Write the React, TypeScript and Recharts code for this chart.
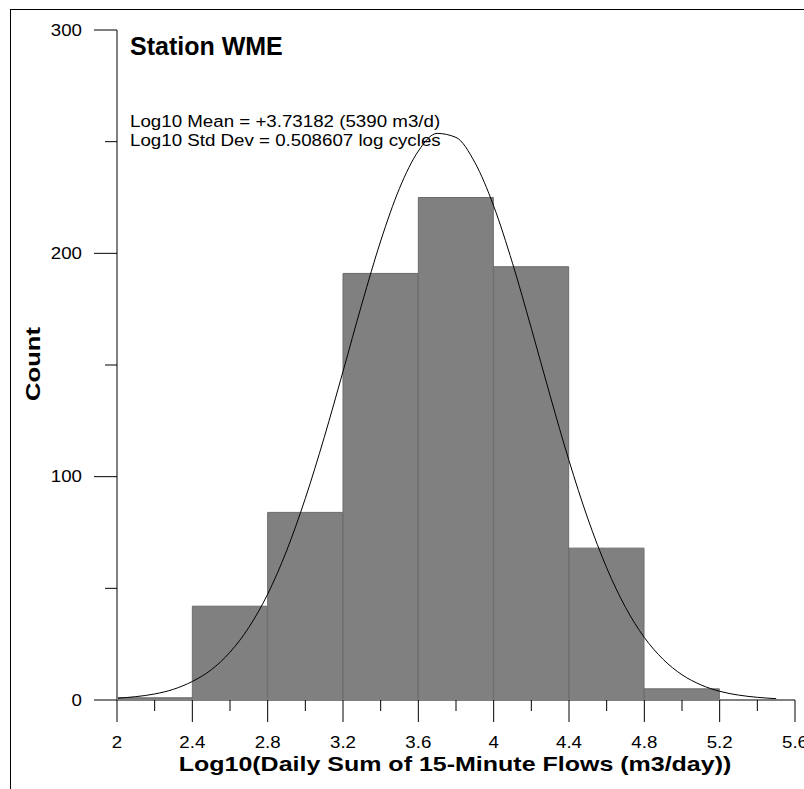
import React from "react";
import { ComposedChart, Bar, Line, XAxis, YAxis } from "recharts";

// histogram bins (centre of each 0.4 wide bin) and counts
const binMid = [2.2, 2.6, 3.0, 3.4, 3.8, 4.2, 4.6, 5.0];
const binCount = [1, 42, 84, 191, 225, 194, 68, 5];

// fitted normal curve
const curveX = [
  2.0, 2.1, 2.2, 2.3, 2.4, 2.5, 2.6, 2.7, 2.8, 2.9, 3.0, 3.1, 3.2, 3.3, 3.4, 3.5, 3.6, 3.7,
  3.8, 3.9, 4.0, 4.1, 4.2, 4.3, 4.4, 4.5, 4.6, 4.7, 4.8, 4.9, 5.0, 5.1, 5.2, 5.3, 5.4, 5.5,
];
const curveY = [
  0.8, 1.5, 2.7, 4.8, 8.3, 13.5, 21.4, 32.5, 47.4, 66.7, 90.3, 117.5, 147.1, 177.3, 205.5, 229.1, 245.8, 253.7,
  251.9, 240.7, 221.2, 195.6, 166.4, 136.2, 107.2, 81.2, 59.2, 41.5, 28.0, 18.2, 11.3, 6.8, 3.9, 2.2, 1.2, 0.6,
];

const xTicks = [2, 2.2, 2.4, 2.6, 2.8, 3, 3.2, 3.4, 3.6, 3.8, 4, 4.2, 4.4, 4.6, 4.8, 5, 5.2, 5.4, 5.6];
const xMajor = [2, 2.4, 2.8, 3.2, 3.6, 4, 4.4, 4.8, 5.2, 5.6];
const yTicks = [0, 50, 100, 150, 200, 250, 300];
const yMajor = [0, 100, 200, 300];

const bins = binMid.map((x, i) => ({ x, count: binCount[i] }));
const curve = curveX.map((x, i) => ({ x, y: curveY[i] }));

const FONT = "'Liberation Sans', Arial, Helvetica, sans-serif";

function XTick(props: any) {
  const { x, y, payload } = props;
  const major = xMajor.includes(payload.value);
  return (
    <g>
      <line x1={x} y1={y} x2={x} y2={y + (major ? 22 : 11)} stroke="#000" strokeWidth={1} />
      {major && (
        <text
          transform={`translate(${x},${y + 42}) scale(1.17,1)`}
          textAnchor="middle"
          dominantBaseline="central"
          fontFamily={FONT}
          fontSize={16}
          fill="#000"
        >
          {String(payload.value)}
        </text>
      )}
    </g>
  );
}

function YTick(props: any) {
  const { x, y, payload } = props;
  const major = yMajor.includes(payload.value);
  return (
    <g>
      <line x1={x - (major ? 23 : 12)} y1={y} x2={x} y2={y} stroke="#000" strokeWidth={1} />
      {major && (
        <text
          transform={`translate(${x - 35},${y}) scale(1.17,1)`}
          textAnchor="end"
          dominantBaseline="central"
          fontFamily={FONT}
          fontSize={16}
          fill="#000"
        >
          {String(payload.value)}
        </text>
      )}
    </g>
  );
}

export default function App() {
  return (
    <div style={{ position: "fixed", left: 0, top: 0, width: 804, height: 789, overflow: "hidden", background: "#fff", fontFamily: FONT }}>
      <div style={{ position: "absolute", left: 10, top: 9, right: 0, bottom: 0, borderLeft: "1px solid #000", borderTop: "1px solid #000" }} />
      <div style={{ position: "absolute", left: 0, top: 0 }}>
        <ComposedChart
          width={804}
          height={789}
          data={bins}
          margin={{ top: 30, right: 9, bottom: 59, left: 57 }}
          barCategoryGap={0}
          barGap={0}
        >
          <XAxis
            xAxisId="bin"
            dataKey="x"
            type="number"
            domain={[2, 5.6]}
            allowDataOverflow
            orientation="top"
            height={0}
            hide
          />
          <XAxis
            xAxisId="main"
            dataKey="x"
            type="number"
            domain={[2, 5.6]}
            ticks={xTicks}
            interval={0}
            allowDataOverflow
            height={30}
            tickSize={0}
            tickMargin={0}
            tickLine={false}
            axisLine={{ stroke: "#808080", strokeWidth: 2 }}
            tick={<XTick />}
          />
          <YAxis
            type="number"
            domain={[0, 300]}
            ticks={yTicks}
            interval={0}
            width={60}
            tickSize={0}
            tickMargin={0}
            tickLine={false}
            axisLine={{ stroke: "#808080", strokeWidth: 2 }}
            tick={<YTick />}
          />
          <Bar xAxisId="bin" dataKey="count" fill="#808080" stroke="#6b6b6b" strokeWidth={1} isAnimationActive={false} />
          <Line
            xAxisId="main"
            data={curve}
            dataKey="y"
            type="monotone"
            stroke="#000"
            strokeWidth={1}
            dot={false}
            activeDot={false}
            isAnimationActive={false}
          />
        </ComposedChart>
      </div>
      <div style={{ position: "absolute", left: 130, top: 34, fontSize: 25, lineHeight: "25px", fontWeight: "bold", whiteSpace: "nowrap" }}>
        Station WME
      </div>
      <div
        style={{
          position: "absolute",
          left: 130,
          top: 112,
          fontSize: 16,
          lineHeight: "19px",
          whiteSpace: "nowrap",
          transform: "scaleX(1.17)",
          transformOrigin: "left center",
        }}
      >
        <div>Log10 Mean = +3.73182 (5390 m3/d)</div>
        <div>Log10 Std Dev = 0.508607 log cycles</div>
      </div>
      <div
        style={{
          position: "absolute",
          left: 455,
          top: 763,
          fontSize: 21,
          lineHeight: "21px",
          fontWeight: "bold",
          whiteSpace: "nowrap",
          transform: "translate(-50%,-50%) scaleX(1.19)",
        }}
      >
        Log10(Daily Sum of 15-Minute Flows (m3/day))
      </div>
      <div
        style={{
          position: "absolute",
          left: 32,
          top: 364,
          fontSize: 21,
          lineHeight: "21px",
          fontWeight: "bold",
          whiteSpace: "nowrap",
          transform: "translate(-50%,-50%) rotate(-90deg) scaleX(1.22)",
        }}
      >
        Count
      </div>
    </div>
  );
}
